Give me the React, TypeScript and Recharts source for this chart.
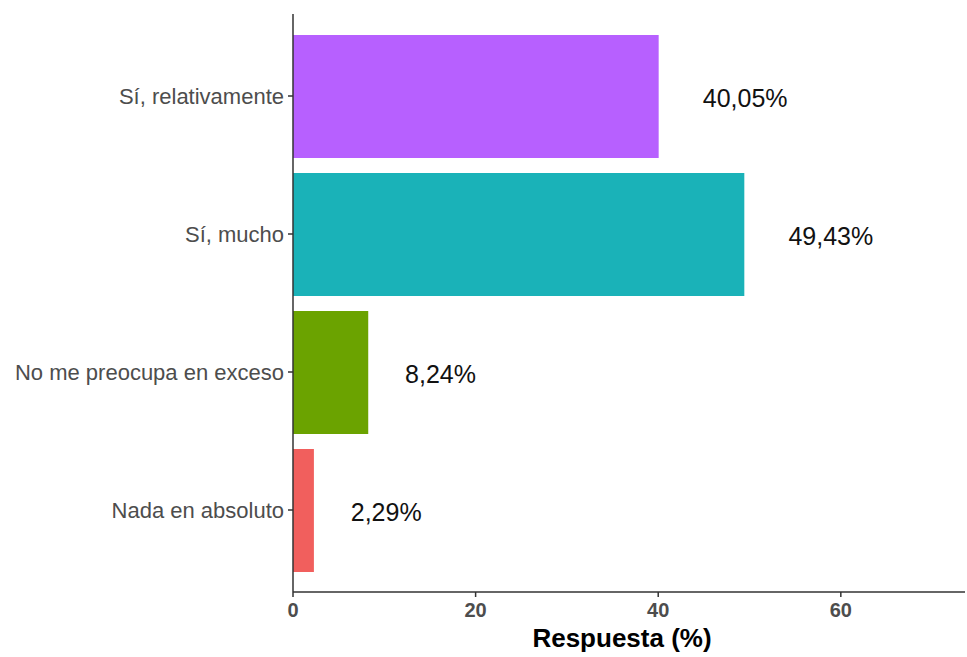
import { Bar, BarChart, Cell, LabelList, XAxis, YAxis } from "recharts";

const categories = [
  "Sí, relativamente",
  "Sí, mucho",
  "No me preocupa en exceso",
  "Nada en absoluto",
];
const values = [40.05, 49.43, 8.24, 2.29];
const colors = ["#B760FF", "#1AB2B8", "#6BA300", "#F15F5D"];
const xTicks = [0, 20, 40, 60];

const data = categories.map((name, i) => ({ name, value: values[i] }));

const FONT = "'Liberation Sans', Arial, Helvetica, sans-serif";

const fmt = (v: number) => v.toFixed(2).replace(".", ",") + "%";

// rough Arial advance widths, in em, for the label text
const textWidth = (s: string, size: number) =>
  s.split("").reduce((w, c) => w + (c === "," ? 0.278 : c === "%" ? 0.889 : 0.556), 0) * size;

const YTick = (props: any) => {
  const { x, y, payload } = props;
  return (
    <text
      x={x - 2}
      y={y}
      textAnchor="end"
      dominantBaseline="central"
      fontSize={22}
      fill="#4D4D4D"
      fontFamily={FONT}
    >
      {payload.value}
    </text>
  );
};

const XTick = (props: any) => {
  const { x, y, payload } = props;
  return (
    <text
      x={x}
      y={y + 18}
      textAnchor="middle"
      fontSize={20}
      fontWeight="bold"
      fill="#4D4D4D"
      fontFamily={FONT}
    >
      {payload.value}
    </text>
  );
};

// ggplot-like hjust = -0.5: gap after the bar is half the text width
const ValueLabel = (props: any) => {
  const { x, y, width, height, value } = props;
  const s = fmt(value);
  const w = textWidth(s, 25);
  return (
    <text
      x={x + width + 0.52 * w}
      y={y + height / 2 + 1}
      dominantBaseline="central"
      fontSize={25}
      fill="#111"
      fontFamily={FONT}
    >
      {s}
    </text>
  );
};

const XTitle = (props: any) => {
  const { viewBox } = props;
  return (
    <text
      x={viewBox.x + viewBox.width / 2 - 7}
      y={viewBox.y + 55}
      textAnchor="middle"
      fontSize={26}
      fontWeight="bold"
      fill="#000"
      fontFamily={FONT}
    >
      Respuesta (%)
    </text>
  );
};

export default function App() {
  return (
    <div style={{ position: "absolute", left: 0, top: 0, background: "#fff" }}>
      <BarChart
        width={967}
        height={657}
        data={data}
        layout="vertical"
        margin={{ top: 14, right: 2, bottom: 0, left: 0 }}
      >
        <XAxis
          type="number"
          domain={[0, 73.6]}
          ticks={xTicks}
          allowDataOverflow
          height={65}
          tickSize={5}
          axisLine={{ stroke: "#333", strokeWidth: 1.5 }}
          tickLine={{ stroke: "#333", strokeWidth: 1.5 }}
          tick={<XTick />}
          label={<XTitle />}
        />
        <YAxis
          type="category"
          dataKey="name"
          width={293}
          tickSize={5}
          padding={{ top: 13, bottom: 13 }}
          axisLine={{ stroke: "#333", strokeWidth: 1.5 }}
          tickLine={{ stroke: "#333", strokeWidth: 1.5 }}
          tick={<YTick />}
          interval={0}
        />
        <Bar dataKey="value" barSize={123} isAnimationActive={false}>
          {data.map((d, i) => (
            <Cell key={d.name} fill={colors[i]} />
          ))}
          <LabelList dataKey="value" content={<ValueLabel />} />
        </Bar>
      </BarChart>
    </div>
  );
}
